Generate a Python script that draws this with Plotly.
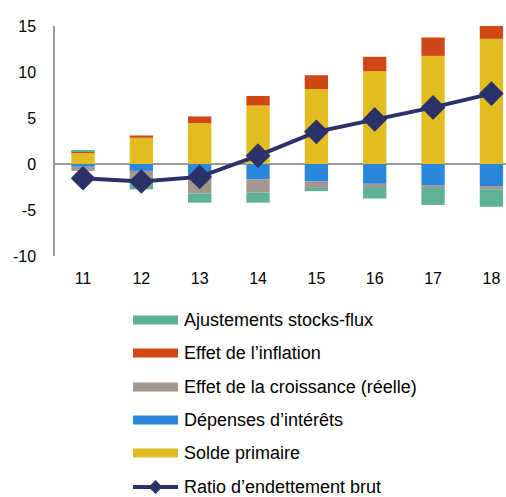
import plotly.graph_objects as go

categories = ["11", "12", "13", "14", "15", "16", "17", "18"]
solde_primaire = [1.2, 2.85, 4.45, 6.35, 8.15, 10.1, 11.75, 13.6]
depenses_interets = [-0.3, -0.75, -1.4, -1.65, -1.9, -2.15, -2.35, -2.4]
effet_croissance = [-0.45, -1.3, -1.8, -1.45, -0.7, -0.35, -0.25, -0.35]
effet_inflation = [0.12, 0.25, 0.72, 1.05, 1.5, 1.55, 2.0, 1.5]
ajustements = [0.2, -0.7, -1.0, -1.1, -0.35, -1.25, -1.85, -1.9]
ratio = [-1.55, -1.9, -1.4, 0.9, 3.5, 4.85, 6.15, 7.65]
y_ticks = [-10, -5, 0, 5, 10, 15]
y_tick_labels = ["-10", "-5", "0", "5", "10", "15"]

names = {
    "aj": "Ajustements stocks-flux",
    "inf": "Effet de l\u2019inflation",
    "cr": "Effet de la croissance (réelle)",
    "dep": "Dépenses d\u2019intérêts",
    "sp": "Solde primaire",
    "ratio": "Ratio d\u2019endettement brut",
}
colors = {
    "aj": "#5EB194",
    "inf": "#CF4815",
    "cr": "#A3978F",
    "dep": "#2A88DC",
    "sp": "#E2BD22",
    "ratio": "#2B3169",
}

W, H = 506, 497
L, T, PH = 55, 26, 230
PW = W - L
B = H - T - PH

def px(xpage):
    return (xpage - L) / PW

def py(ypage):
    return (T + PH - ypage) / PH

x = list(range(len(categories)))
fig = go.Figure()

bar_series = [
    ("sp", solde_primaire),
    ("dep", depenses_interets),
    ("cr", effet_croissance),
    ("inf", effet_inflation),
    ("aj", ajustements),
]
for key, vals in bar_series:
    fig.add_trace(go.Bar(x=x, y=vals, name=names[key],
                         marker=dict(color=colors[key], line=dict(width=0)),
                         width=0.4, showlegend=False))

fig.add_trace(go.Scatter(x=x, y=ratio, name=names["ratio"], mode="lines+markers",
                         line=dict(color=colors["ratio"], width=4),
                         marker=dict(symbol="diamond", size=19, color=colors["ratio"]),
                         showlegend=False))

# manual legend
legend_order = ["aj", "inf", "cr", "dep", "sp", "ratio"]
legend_y = [320, 353, 387, 420, 453, 487]
sw_x0, sw_x1, txt_x = 133, 178, 182
shapes = []
annotations = []
for key, yc in zip(legend_order, legend_y):
    is_line = key == "ratio"
    shapes.append(dict(type="line", xref="paper", yref="paper",
                       x0=px(sw_x0), x1=px(sw_x1), y0=py(yc), y1=py(yc),
                       line=dict(color=colors[key], width=4 if is_line else 9)))
    annotations.append(dict(xref="paper", yref="paper", x=px(txt_x), y=py(yc),
                            xanchor="left", yanchor="middle", showarrow=False,
                            text=names[key], font=dict(size=18, color="#000000")))
cx, cy, r = (sw_x0 + sw_x1) / 2, legend_y[-1], 7
path = "M {},{} L {},{} L {},{} L {},{} Z".format(
    px(cx - r), py(cy), px(cx), py(cy - r), px(cx + r), py(cy), px(cx), py(cy + r))
shapes.append(dict(type="path", xref="paper", yref="paper", path=path,
                   fillcolor=colors["ratio"], line=dict(width=0)))

fig.update_layout(
    width=W, height=H,
    margin=dict(l=L, r=0, t=T, b=B, pad=0),
    paper_bgcolor="white", plot_bgcolor="white",
    barmode="relative",
    font=dict(family="Liberation Sans, Arial, sans-serif", size=16, color="#000000"),
    showlegend=False,
    shapes=shapes,
    annotations=annotations,
    xaxis=dict(tickmode="array", tickvals=x, ticktext=categories,
               range=[-0.48, 7.25], showgrid=False, zeroline=False, showline=False,
               ticks="outside", ticklen=8, tickcolor="rgba(0,0,0,0)", automargin=False),
    yaxis=dict(range=[-10, 15], tickmode="array", tickvals=y_ticks, ticktext=y_tick_labels,
               showgrid=False, zeroline=True, zerolinecolor="#9A9A9A", zerolinewidth=2,
               showline=True, linecolor="#9A9A9A", linewidth=1.5,
               ticks="outside", ticklen=14, tickcolor="rgba(0,0,0,0)", automargin=False),
)

fig.write_html("out.html", config={"displayModeBar": False},
               post_script="document.body.style.margin='0';document.body.style.overflow='hidden';")
